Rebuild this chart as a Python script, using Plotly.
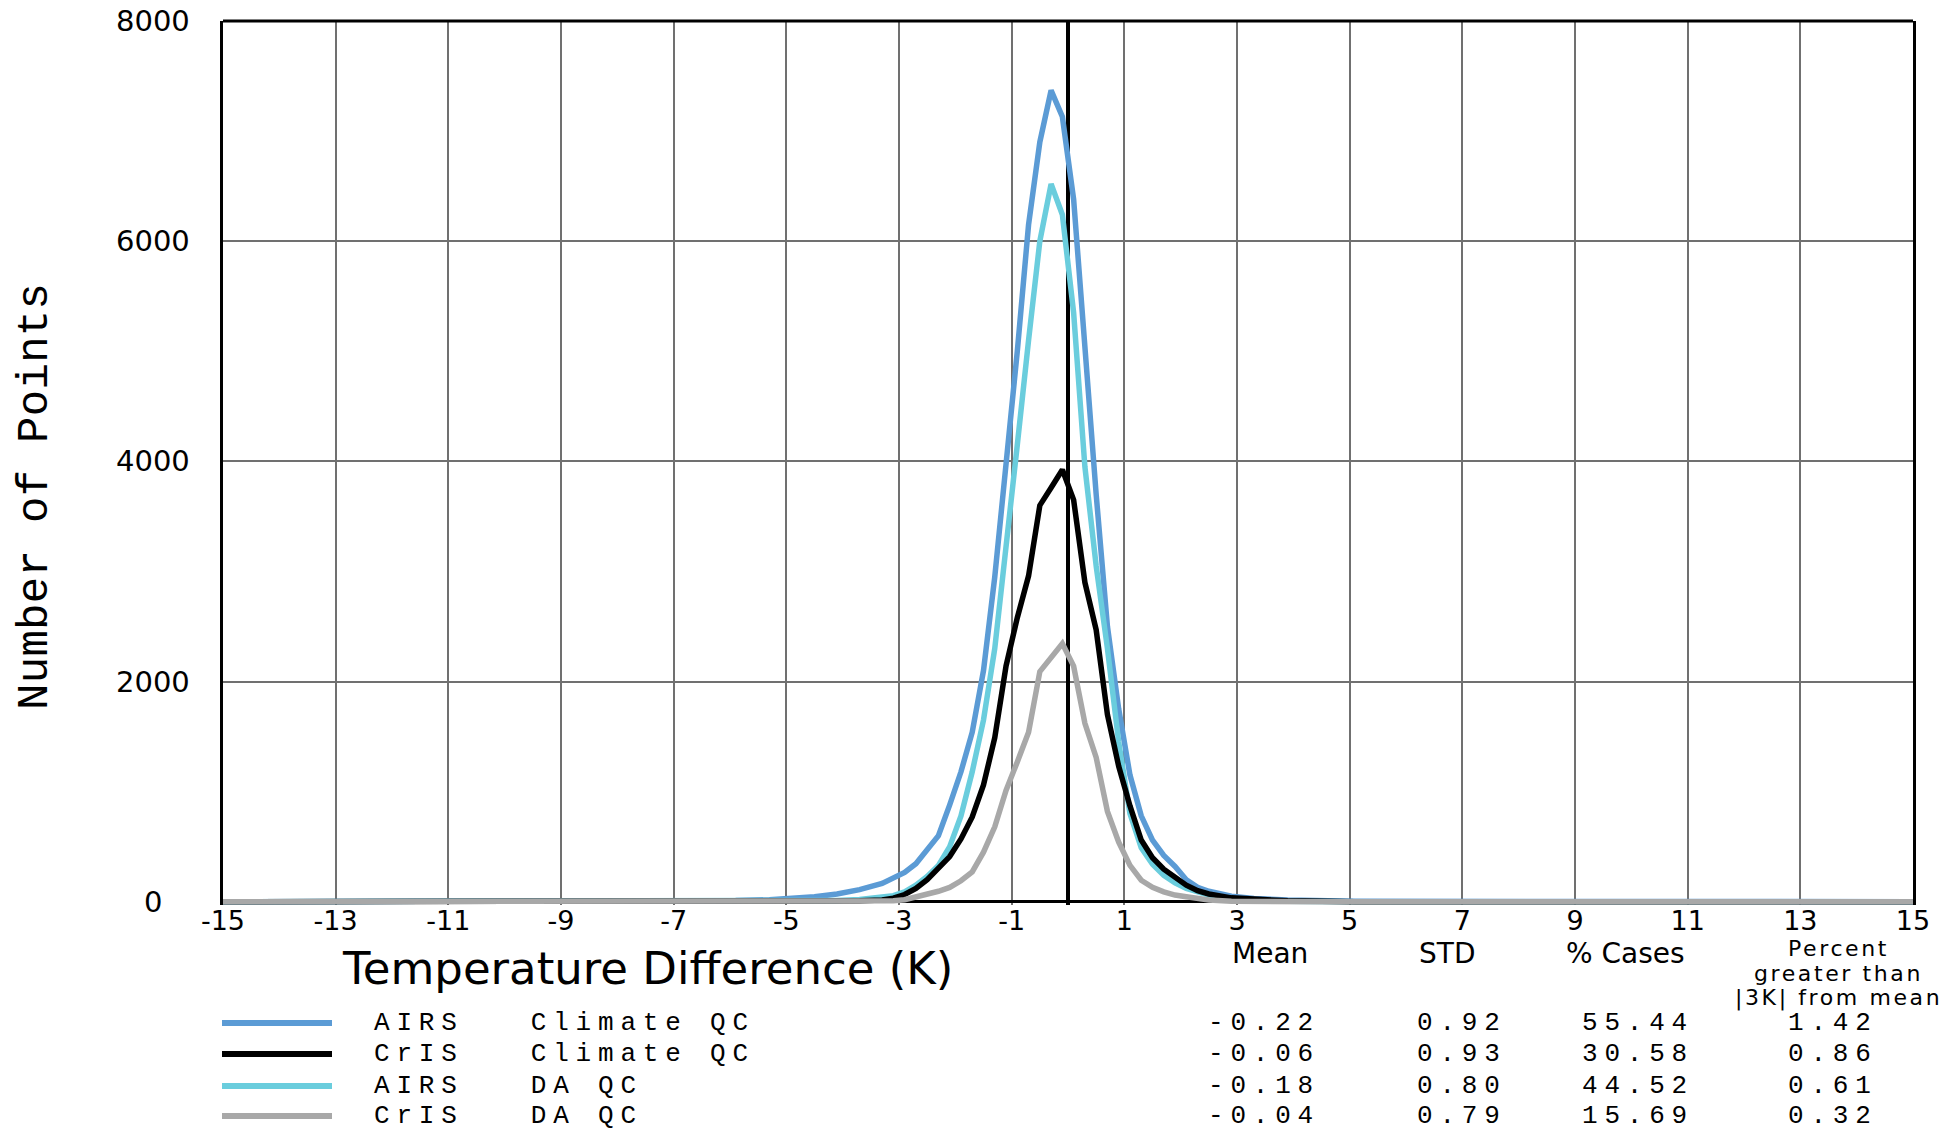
import plotly.graph_objects as go

# ---------------- data ----------------
x_bins = [-15, -7.1, -6.5, -5.9, -5.3, -4.9, -4.5, -4.1, -3.7, -3.3, -3.1, -2.9,
          -2.7, -2.5, -2.3, -2.1, -1.9, -1.7, -1.5, -1.3, -1.1, -0.9, -0.7, -0.5,
          -0.3, -0.1, 0.1, 0.3, 0.5, 0.7, 0.9, 1.1, 1.3, 1.5, 1.7, 1.9, 2.1, 2.3,
          2.5, 2.9, 3.3, 3.9, 4.5, 5.1, 15]

airs_climate = [0, 0, 5, 10, 18, 28, 45, 70, 110, 165, 215, 265,
                345, 465, 600, 880, 1180, 1540, 2100, 2950, 3950, 5000, 6150, 6900,
                7370, 7130, 6380, 4980, 3700, 2500, 1750, 1150, 780, 560, 420, 320, 200, 130,
                95, 50, 30, 15, 8, 3, 0]

cris_climate = [0, 0, 0, 0, 0, 1, 2, 4, 8, 15, 32, 65,
                120, 200, 300, 410, 570, 770, 1060, 1490, 2140, 2580, 2960, 3600,
                3760, 3924, 3650, 2900, 2470, 1700, 1230, 870, 560, 400, 295, 225, 150, 100,
                70, 35, 20, 8, 3, 0, 0]

airs_da = [0, 0, 1, 2, 3, 5, 8, 12, 20, 35, 55, 90,
           150, 230, 330, 500, 780, 1180, 1650, 2300, 3280, 4150, 5100, 6000,
           6520, 6240, 5350, 3950, 3050, 2300, 1450, 800, 490, 340, 240, 170, 120, 85,
           60, 30, 15, 5, 2, 0, 0]

cris_da = [0, 0, 0, 0, 0, 0, 0, 0, 0, 2, 8, 18,
           40, 65, 95, 130, 190, 270, 450, 680, 1010, 1270, 1540, 2090,
           2210, 2345, 2140, 1620, 1310, 820, 540, 330, 195, 130, 90, 60, 45, 28,
           15, 4, 0, 0, 0, 0, 0]

series_labels = ["AIRS   Climate QC", "CrIS   Climate QC", "AIRS   DA QC", "CrIS   DA QC"]
series_values = [airs_climate, cris_climate, airs_da, cris_da]
series_colors = ["#5B9BD5", "#000000", "#6ACDDD", "#A8A8A8"]
draw_order = [0, 2, 1, 3]

table_headers = ["Mean", "STD", "% Cases"]
last_header = ["Percent", "greater than", "|3K| from mean"]
mean_vals = ["-0.22", "-0.06", "-0.18", "-0.04"]
std_vals = ["0.92", "0.93", "0.80", "0.79"]
pct_cases = ["55.44", "30.58", "44.52", "15.69"]
pct_gt3k = ["1.42", "0.86", "0.61", "0.32"]

x_ticks = list(range(-15, 16, 2))
y_ticks = [0, 2000, 4000, 6000, 8000]

x_title = "Temperature Difference (K)"
y_title = "Number of Points"

# ---------------- layout geometry (pixels) ----------------
W, H = 1957, 1133
L, R, T, B = 223, 1913, 21, 905


def px(xp, yp):
    return (xp - L) / (R - L), (B - yp) / (B - T)


def spaced(s, ls):
    s = s.replace(" ", "\u00a0")
    return f'<span style="letter-spacing:{ls}px">{s}</span>'


fig = go.Figure()
for i in draw_order:
    fig.add_trace(go.Scatter(
        x=x_bins, y=series_values[i], mode="lines", name=series_labels[i],
        line=dict(color=series_colors[i], width=5.5), showlegend=False,
        hoverinfo="skip"))

annotations = []


def ann(xp, yp, text, size, family, xanchor="center", angle=0, color="black"):
    ax, ay = px(xp, yp)
    annotations.append(dict(
        x=ax, y=ay, xref="paper", yref="paper", text=text, showarrow=False,
        xanchor=xanchor, yanchor="middle", textangle=angle,
        font=dict(size=size, family=family, color=color)))


MONO = "Liberation Mono, DejaVu Sans Mono, monospace"
SANS = "DejaVu Sans, Liberation Sans, Arial, sans-serif"

# y tick labels, centred under each other as in the reference
ylab_x, _ = px(153, 0)
for v in y_ticks:
    annotations.append(dict(
        x=ylab_x, y=v, xref="paper", yref="y", text=str(v), showarrow=False,
        xanchor="center", yanchor="middle",
        font=dict(size=29, family=SANS, color="black")))

# axis titles
ann(647, 968, x_title, 45, SANS)
ann(35, 497, spaced(y_title, 0.3), 44, MONO, angle=-90)

# table headers
col_x = [1270, 1447, 1625]
for cx, h in zip(col_x, table_headers):
    ann(cx, 953, h, 28, SANS)
for yy, h in zip([948, 973, 998], last_header):
    ann(1838, yy, spaced(h, 2.6), 22, SANS)

# legend rows + table values
row_y = [1023, 1054, 1086, 1116]
val_cols = [(1261, mean_vals), (1459, std_vals), (1635, pct_cases), (1830, pct_gt3k)]
shapes = []
for r, yy in enumerate(row_y):
    x0, y0 = px(222, yy)
    x1, _ = px(332, yy)
    shapes.append(dict(type="line", xref="paper", yref="paper", x0=x0, x1=x1,
                       y0=y0, y1=y0, line=dict(color=series_colors[r], width=6)))
    ann(372, yy, spaced(series_labels[r], 6.8), 26, MONO, xanchor="left")
    for cx, vals in val_cols:
        ann(cx + 3, yy, spaced(vals[r], 6.8), 26, MONO)

# top frame line
shapes.append(dict(type="line", xref="paper", yref="paper", x0=0, x1=1, y0=1, y1=1,
                   line=dict(color="black", width=3), layer="above"))

fig.update_layout(
    width=W, height=H,
    margin=dict(l=L, r=W - R, t=T, b=H - B, pad=0, autoexpand=False),
    paper_bgcolor="white", plot_bgcolor="white",
    showlegend=False,
    annotations=annotations, shapes=shapes,
    xaxis=dict(
        range=[-15, 15], tickmode="array", tickvals=x_ticks,
        ticktext=[str(v) for v in x_ticks],
        showgrid=True, gridcolor="#707070", gridwidth=1.5,
        zeroline=True, zerolinecolor="black", zerolinewidth=3.5,
        showline=False, ticks="", automargin=False, ticklabelstandoff=-3,
        tickfont=dict(family=SANS, size=27, color="black"),
        fixedrange=True,
    ),
    yaxis=dict(
        range=[-30, 8000], tickmode="array", tickvals=y_ticks,
        showticklabels=False,
        showgrid=True, gridcolor="#707070", gridwidth=1.5,
        zeroline=True, zerolinecolor="black", zerolinewidth=3,
        showline=True, linecolor="black", linewidth=3, mirror=True,
        ticks="", automargin=False,
        fixedrange=True,
    ),
)

fig.write_html("out.html")
